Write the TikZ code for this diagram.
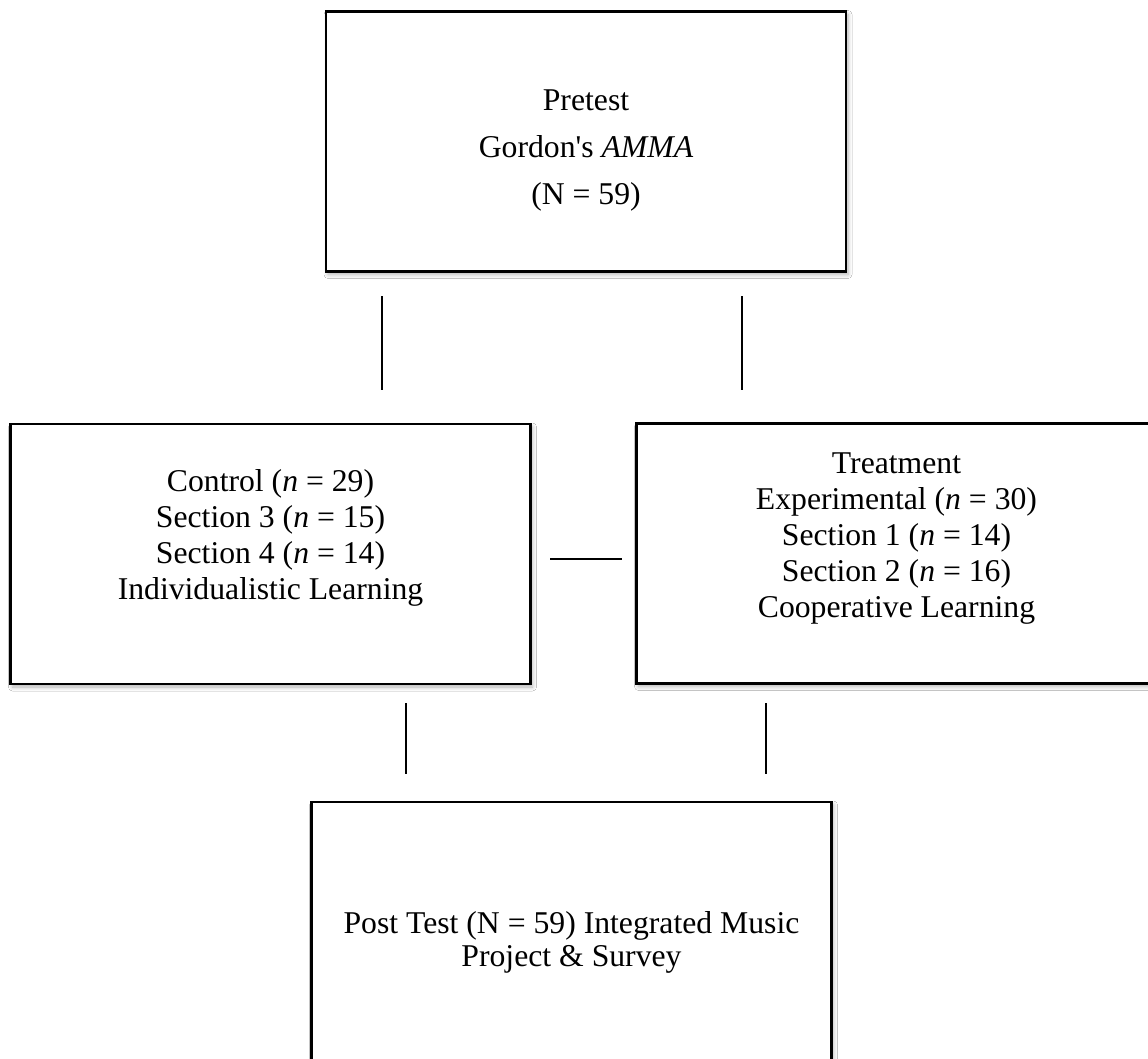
\documentclass[tikz,border=0pt]{standalone}
\usepackage{fontspec}
\setmainfont{Liberation Serif}[Ligatures=TeXOff]
\usetikzlibrary{shadows.blur}
\begin{document}
\begin{tikzpicture}[x=1pt,y=-1pt,
  box/.style={draw=black, line width=2.2pt, fill=white, rectangle,
    minimum width=520pt, minimum height=260pt, inner sep=0pt,
    blur shadow={shadow xshift=2pt, shadow yshift=-3pt, shadow blur steps=6,
      shadow blur radius=4pt, shadow opacity=30}},
  txt/.style={align=center, inner sep=0pt, font=\fontsize{31.7}{36}\selectfont},
  link/.style={line width=2pt}
]
\useasboundingbox (0,0) rectangle (1148,1059);
\clip (0,0) rectangle (1148,1059);
\fill[white] (0,0) rectangle (1148,1059);

\node[box] (pre) at (586,141.5) {};
\node[box] (ctl) at (270.5,554) {};
\node[box] (trt) at (896.5,553.5) {};
\node[box] (post) at (571.5,932) {};

\node[txt, font=\fontsize{31.7}{47}\selectfont] (pretxt) at (586,150)
  {Pretest\\Gordon's \textit{AMMA}\\(N = 59)};
\node[txt] (ctltxt) at (270.5,538)
  {Control (\textit{n} = 29)\\Section 3 (\textit{n} = 15)\\Section 4 (\textit{n} = 14)\\Individualistic Learning};
\node[txt] (trttxt) at (896.5,538.5)
  {Treatment\\Experimental (\textit{n} = 30)\\Section 1 (\textit{n} = 14)\\Section 2 (\textit{n} = 16)\\Cooperative Learning};
\node[txt, font=\fontsize{31.7}{33}\selectfont] (posttxt) at (571.5,942)
  {Post Test (N = 59) Integrated Music\\Project \& Survey};

\coordinate (u1a) at (382,296); \coordinate (u1b) at (382,390);
\coordinate (u2a) at (742,296); \coordinate (u2b) at (742,390);
\coordinate (ha) at (550,559); \coordinate (hb) at (622,559);
\coordinate (l1a) at (406,703); \coordinate (l1b) at (406,774);
\coordinate (l2a) at (766,703); \coordinate (l2b) at (766,774);

\draw[link] (u1a) -- (u1b);
\draw[link] (u2a) -- (u2b);
\draw[link] (ha) -- (hb);
\draw[link] (l1a) -- (l1b);
\draw[link] (l2a) -- (l2b);
\end{tikzpicture}
\end{document}
